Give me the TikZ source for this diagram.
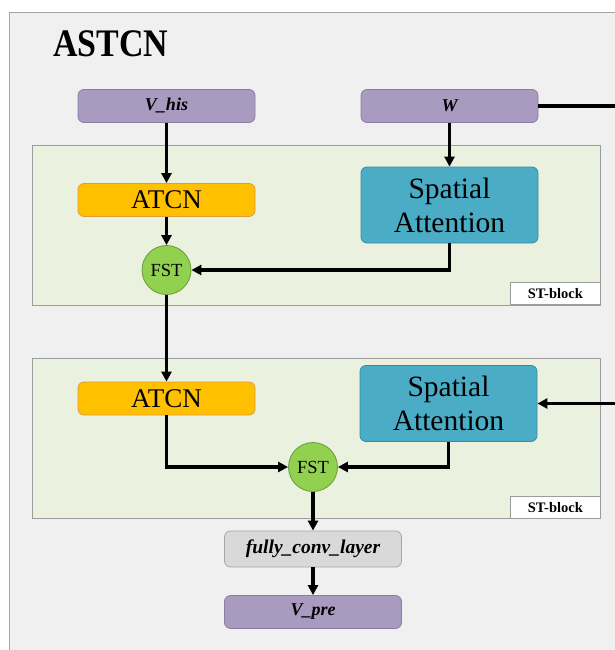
\documentclass[tikz,border=0pt]{standalone}
\usepackage{fontspec}
\setmainfont{Liberation Serif}
\usetikzlibrary{arrows.meta}

\definecolor{panelbg}{HTML}{F0F0F0}
\definecolor{panelline}{HTML}{A6A6A6}
\definecolor{blockbg}{HTML}{EBF1DF}
\definecolor{blockline}{HTML}{9C9C9C}
\definecolor{iofill}{HTML}{A99AC0}
\definecolor{ioline}{HTML}{8C7DA6}
\definecolor{atcnfill}{HTML}{FFC000}
\definecolor{atcnline}{HTML}{E39A3A}
\definecolor{safill}{HTML}{4BACC6}
\definecolor{saline}{HTML}{3A8AA0}
\definecolor{fstfill}{HTML}{92D050}
\definecolor{fstline}{HTML}{6A9A3A}
\definecolor{convfill}{HTML}{D9D9D9}
\definecolor{convline}{HTML}{A6A6A6}

\tikzset{
  box/.style={rectangle, rounded corners=6pt, line width=0.8pt, inner sep=0pt,
    minimum width=177pt, align=center},
  iobox/.style={box, fill=iofill, draw=ioline, minimum height=33pt,
    font=\fontsize{18}{18}\selectfont\bfseries\itshape},
  atcnbox/.style={box, fill=atcnfill, draw=atcnline, minimum height=33pt,
    font=\fontsize{27}{27}\selectfont},
  sabox/.style={box, fill=safill, draw=saline, minimum height=76pt,
    font=\fontsize{29.5}{34}\selectfont},
  convbox/.style={box, fill=convfill, draw=convline, minimum height=36pt,
    font=\fontsize{19.5}{19.5}\selectfont\bfseries\itshape},
  fstnode/.style={circle, fill=fstfill, draw=fstline, line width=0.8pt,
    minimum size=49pt, inner sep=0pt, font=\fontsize{18.5}{18.5}\selectfont},
  blockarea/.style={fill=blockbg, draw=blockline, line width=0.8pt},
  blocktag/.style={rectangle, fill=white, draw=blockline, line width=0.8pt,
    minimum width=89.5pt, minimum height=22pt, inner sep=0pt,
    font=\fontsize{14.5}{14.5}\selectfont\bfseries},
  flow/.style={line width=3.6pt, -{Triangle[length=10pt,width=10pt]}},
}

\begin{document}
\begin{tikzpicture}[x=1pt, y=-1pt]
  \path[use as bounding box, clip] (0,0) rectangle (615,650);
  \fill[white] (0,0) rectangle (615,650);

  % outer panel (runs past the right and bottom edges)
  \draw[fill=panelbg, draw=panelline, line width=1pt] (9.5,12.5) rectangle (700,700);

  % title
  \node[anchor=base west, inner sep=0pt] (title) at (53,56.5)
    {\scalebox{0.87}[1]{\fontsize{39}{39}\selectfont\bfseries ASTCN}};

  % ST-block areas
  \draw[blockarea] (32,145.5) rectangle (600.5,305);
  \node[blocktag, anchor=south east] (tag1) at (600.5,305) {ST-block};
  \draw[blockarea] (32,358) rectangle (600.5,518.5);
  \node[blocktag, anchor=south east] (tag2) at (600.5,518.5) {ST-block};

  % inputs
  \node[iobox] (vhis) at (166.5,106) {V\_his};
  \node[iobox] (w) at (449.5,106) {W};

  % first block
  \node[atcnbox] (atcn1) at (166.5,200) {ATCN};
  \node[sabox] (sa1) at (449.5,205) {Spatial\\Attention};
  \node[fstnode] (fst1) at (166.5,270) {FST};

  % second block
  \node[atcnbox] (atcn2) at (166.5,398.5) {ATCN};
  \node[sabox] (sa2) at (448.5,403.5) {Spatial\\Attention};
  \node[fstnode] (fst2) at (313,467) {FST};

  % output head
  \node[convbox] (fcl) at (313,549) {fully\_conv\_layer};
  \node[iobox] (vpre) at (313,612) {V\_pre};

  \coordinate (wturn) at (660,106);

  % connectors
  \draw[flow] (vhis.south) -- (atcn1.north);
  \draw[flow] (w.south) -- (sa1.north);
  \draw[flow] (w.east) -- (wturn) |- (sa2.east);
  \draw[flow] (atcn1.south) -- (fst1.north);
  \draw[flow] (sa1.south) |- (fst1.east);
  \draw[flow] (fst1.south) -- (atcn2.north);
  \draw[flow] (atcn2.south) |- (fst2.west);
  \draw[flow] (sa2.south) |- (fst2.east);
  \draw[flow] (fst2.south) -- (fcl.north);
  \draw[flow] (fcl.south) -- (vpre.north);
\end{tikzpicture}
\end{document}
